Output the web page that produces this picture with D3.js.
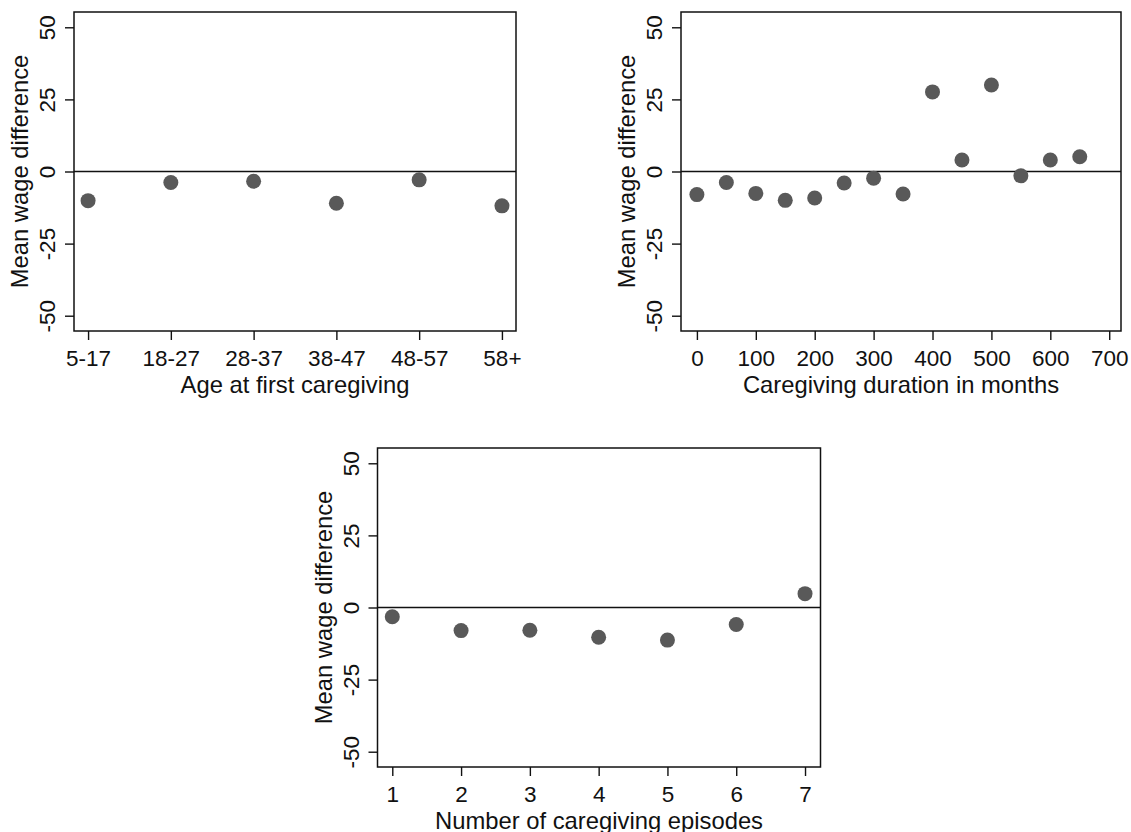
<!DOCTYPE html>
<html>
<head>
<meta charset="utf-8">
<script src="https://cdn.jsdelivr.net/npm/d3@7"></script>
<style>
  html, body { margin: 0; padding: 0; background: #ffffff; }
  svg { display: block; }
</style>
</head>
<body>
<svg id="chart" width="1131" height="832"></svg>
<script>
// ---------------- Data ----------------
const ageCategories = ["5-17", "18-27", "28-37", "38-47", "48-57", "58+"];
const ageValues = [-10.1, -3.8, -3.4, -11.0, -2.9, -11.9];

const durationMonths = [0, 50, 100, 150, 200, 250, 300, 350, 400, 450, 500, 550, 600, 650];
const durationValues = [-8.0, -3.8, -7.6, -10.0, -9.2, -4.0, -2.3, -7.8, 27.6, 4.0, 30.0, -1.5, 4.0, 5.1];
const durationTicks = [0, 100, 200, 300, 400, 500, 600, 700];

const episodeCounts = [1, 2, 3, 4, 5, 6, 7];
const episodeValues = [-3.2, -8.0, -7.9, -10.3, -11.3, -5.9, 4.8];

const yTicks = [-50, -25, 0, 25, 50];
const yTitle = "Mean wage difference";
const xTitles = ["Age at first caregiving", "Caregiving duration in months", "Number of caregiving episodes"];

// ---------------- Style ----------------
const FONT = "'Liberation Sans', Arial, Helvetica, sans-serif";
const TICK_FONT = 22.5;
const TITLE_FONT = 23.8;
const MARKER = "#595959";
const INK = "#111111";
const plain = d => String(d);   // hyphen-minus, as in the reference

const svg = d3.select("#chart");

function drawPanel(box, xScale, xTickValues, points, xTitle) {
  const g = svg.append("g");
  const y = d3.scaleLinear().domain([-55.3, 55.3]).range([box.bottom, box.top]);

  // y axis
  const yAxis = d3.axisLeft(y).tickValues(yTicks).tickSize(9).tickFormat(plain);
  const ya = g.append("g").attr("transform", `translate(${box.left},0)`).call(yAxis);
  ya.select(".domain").remove();
  ya.selectAll(".tick line").attr("stroke", INK).attr("stroke-width", 1.4);
  ya.selectAll(".tick text")
    .attr("x", null).attr("dy", null).attr("y", null)
    .attr("text-anchor", "middle")
    .attr("transform", "translate(-19,0) rotate(-90)")
    .attr("fill", INK)
    .style("font-family", FONT).style("font-size", TICK_FONT + "px");

  // x axis
  const xAxis = d3.axisBottom(xScale).tickSize(9).tickFormat(plain);
  if (xTickValues) xAxis.tickValues(xTickValues);
  const xa = g.append("g").attr("transform", `translate(0,${box.bottom})`).call(xAxis);
  xa.select(".domain").remove();
  xa.selectAll(".tick line").attr("stroke", INK).attr("stroke-width", 1.4);
  xa.selectAll(".tick text")
    .attr("y", 35).attr("dy", null)
    .attr("fill", INK)
    .style("font-family", FONT).style("font-size", TICK_FONT + "px");

  // zero reference line
  g.append("line")
    .attr("x1", box.left).attr("x2", box.right)
    .attr("y1", y(0)).attr("y2", y(0))
    .attr("stroke", INK).attr("stroke-width", 1.4);

  // markers
  g.append("g").selectAll("circle").data(points).join("circle")
    .attr("cx", d => xScale(d.x))
    .attr("cy", d => y(d.y))
    .attr("r", 7.5)
    .attr("fill", MARKER);

  // plot box
  g.append("rect")
    .attr("x", box.left).attr("y", box.top)
    .attr("width", box.right - box.left).attr("height", box.bottom - box.top)
    .attr("fill", "none").attr("stroke", INK).attr("stroke-width", 1.5);

  // axis titles
  g.append("text")
    .attr("x", (box.left + box.right) / 2).attr("y", box.bottom + 61.5)
    .attr("text-anchor", "middle").attr("fill", INK)
    .style("font-family", FONT).style("font-size", TITLE_FONT + "px")
    .text(xTitle);
  g.append("text")
    .attr("transform", `translate(${box.left - 46},${(box.top + box.bottom) / 2}) rotate(-90)`)
    .attr("text-anchor", "middle").attr("fill", INK)
    .style("font-family", FONT).style("font-size", TITLE_FONT + "px")
    .text(yTitle);
}

// Panel 1: age at first caregiving
const box1 = { left: 74, right: 516, top: 12, bottom: 331 };
const x1 = d3.scalePoint().domain(ageCategories).range([box1.left, box1.right]).padding(0.17);
drawPanel(box1, x1, null,
  ageCategories.map((c, i) => ({ x: c, y: ageValues[i] })), xTitles[0]);

// Panel 2: caregiving duration
const box2 = { left: 681, right: 1121, top: 12, bottom: 331 };
const x2 = d3.scaleLinear().domain([-27, 720]).range([box2.left, box2.right]);
drawPanel(box2, x2, durationTicks,
  durationMonths.map((m, i) => ({ x: m, y: durationValues[i] })), xTitles[1]);

// Panel 3: number of episodes
const box3 = { left: 377.5, right: 820.5, top: 448, bottom: 767 };
const x3 = d3.scaleLinear().domain([0.785, 7.225]).range([box3.left, box3.right]);
drawPanel(box3, x3, episodeCounts,
  episodeCounts.map((n, i) => ({ x: n, y: episodeValues[i] })), xTitles[2]);
</script>
</body>
</html>
